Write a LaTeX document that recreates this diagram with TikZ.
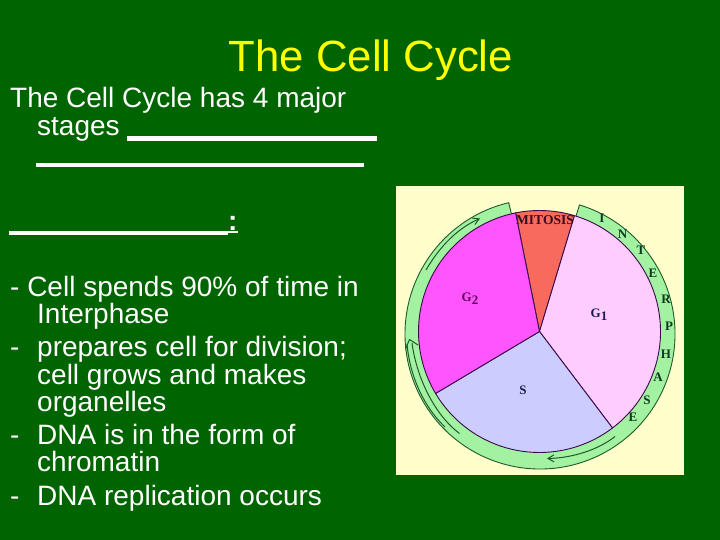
\documentclass[tikz,border=0pt]{standalone}
\usepackage{fontspec}
\setmainfont{Liberation Sans}
\newfontfamily\serifdiag{Liberation Serif}
\usetikzlibrary{arrows.meta}
\definecolor{slidebg}{HTML}{006400}
\definecolor{panelbg}{HTML}{FFFFCC}
\definecolor{ringgreen}{HTML}{A2F2A2}
\definecolor{ringline}{HTML}{1F5A2A}
\definecolor{wedgeline}{HTML}{3A0A4A}
\definecolor{mitosisc}{HTML}{F86A5E}
\definecolor{gonec}{HTML}{FFCCFF}
\definecolor{sc}{HTML}{CCCCFF}
\definecolor{gtwoc}{HTML}{FF55FF}
\definecolor{labelnavy}{HTML}{1A1A50}
\definecolor{labelgreen}{HTML}{0F3A20}
\tikzset{
  bodyline/.style={anchor=base west,text=white,inner sep=0pt,font=\fontsize{28}{28}\selectfont},
  blank/.style={white,line width=4.5pt},
  wedge/.style={draw=wedgeline,line width=0.9pt},
  ringedge/.style={draw=ringline,line width=0.9pt},
  flowline/.style={draw=ringline,line width=1pt},
  flow/.style={flowline,-{Straight Barb[length=6pt,width=7pt]}},
  letter/.style={font=\serifdiag\bfseries\fontsize{13}{13}\selectfont,text=labelgreen,inner sep=0pt},
  phase/.style={font=\serifdiag\bfseries\fontsize{13}{13}\selectfont,inner sep=0pt},
}
\newcommand{\dashitem}{\makebox[27pt][l]{-}}
\begin{document}
\begin{tikzpicture}[x=1pt,y=-1pt]
\useasboundingbox (0,0) rectangle (720,540);
\fill[slidebg] (0,0) rectangle (720,540);
% title and text
\node[anchor=base,text={rgb,255:red,255;green,255;blue,0},inner sep=0pt,font=\fontsize{43.7}{44}\selectfont] (title) at (371,71.5) {The Cell Cycle};
\node[bodyline] (l1) at (10,108) {The Cell Cycle has 4 major};
\node[bodyline] (l2) at (37,135.5) {stages};
\draw[blank] (127,138.7) -- (377,138.7);
\draw[blank] (36,165) -- (364,165);
\draw[blank] (9,233) -- (228,233);
\draw[white,line width=1pt] (228,232) -- (238,232);
\node[bodyline,font=\bfseries\fontsize{28}{28}\selectfont] (colon) at (228,230) {:};
\node[bodyline] (l3) at (10,296) {- Cell spends 90\% of time in};
\node[bodyline] (l4) at (37,323) {Interphase};
\node[bodyline] (l5) at (10,356) {\dashitem prepares cell for division;};
\node[bodyline] (l6) at (37,384) {cell grows and makes};
\node[bodyline] (l7) at (37,411) {organelles};
\node[bodyline] (l8) at (10,444) {\dashitem DNA is in the form of};
\node[bodyline] (l9) at (37,471) {chromatin};
\node[bodyline] (l10) at (10,505) {\dashitem DNA replication occurs};
% panel
\fill[panelbg] (396,186) rectangle (684,475);
% outer ring: sectors from the ring centre, the pie covers the inner part
\def\cxo{540}\def\cyo{334}\def\ro{135}\def\ri{115}
\fill[ringgreen] (\cxo,\cyo) -- ({\cxo+\ro*cos(103.4)},{\cyo-\ro*sin(103.4)}) arc[start angle=-103.4,end angle=-187,radius=\ro] -- cycle;
\fill[ringgreen] (\cxo,\cyo) -- ({\cxo+\ro*cos(73)},{\cyo-\ro*sin(73)}) arc[start angle=-73,end angle=173.2,radius=\ro] -- cycle;
\draw[ringedge] ({\cxo+\ri*cos(103.4)},{\cyo-\ri*sin(103.4)}) -- ({\cxo+\ro*cos(103.4)},{\cyo-\ro*sin(103.4)}) arc[start angle=-103.4,end angle=-187,radius=\ro];
\draw[ringedge] ({\cxo+\ri*cos(73)},{\cyo-\ri*sin(73)}) -- ({\cxo+\ro*cos(73)},{\cyo-\ro*sin(73)}) arc[start angle=-73,end angle=173.2,radius=\ro];
% pie
\def\cx{539.5}\def\cy{331.5}\def\pr{121}
\draw[wedge,fill=mitosisc] (\cx,\cy) -- ({\cx+\pr*cos(101.4)},{\cy-\pr*sin(101.4)}) arc[start angle=-101.4,end angle=-73.2,radius=\pr] -- cycle;
\draw[wedge,fill=gonec] (\cx,\cy) -- ({\cx+\pr*cos(73.2)},{\cy-\pr*sin(73.2)}) arc[start angle=-73.2,end angle=52.9,radius=\pr] -- cycle;
\draw[wedge,fill=sc] (\cx,\cy) -- ({\cx+\pr*cos(-52.9)},{\cy-\pr*sin(-52.9)}) arc[start angle=52.9,end angle=149.2,radius=\pr] -- cycle;
\draw[wedge,fill=gtwoc] (\cx,\cy) -- ({\cx+\pr*cos(210.8)},{\cy-\pr*sin(210.8)}) arc[start angle=149.2,end angle=258.6,radius=\pr] -- cycle;
% arrows in ring
\coordinate (a1s) at (426,270);
\coordinate (a1e) at (480,218.5);
\draw[flow] (a1s) .. controls (440,246) and (458,228) .. (a1e);
% the double-shafted arrow at lower left
\coordinate (a2tip) at (409.5,339.5);
\coordinate (a2l) at (405.5,349);
\coordinate (a2r) at (418,345);
\coordinate (a2sa) at (459.5,433.5);
\coordinate (a2ea) at (412,343);
\coordinate (a2sb) at (445,427);
\coordinate (a2eb) at (407,344);
\draw[flowline] (a2sa) .. controls (436,416) and (417,380) .. (a2ea);
\draw[flowline] (a2sb) .. controls (425,408) and (410,378) .. (a2eb);
\draw[flowline,line join=round] (a2l) -- (a2tip) -- (a2r);
\coordinate (a3s) at (615,436.5);
\coordinate (a3e) at (547,458.5);
\draw[flow] (a3s) .. controls (598,450) and (572,458) .. (a3e);
% labels
\node[phase,text={rgb,255:red,60;green,10;blue,30},font=\serifdiag\bfseries\fontsize{13.5}{13.5}\selectfont] (mit) at (545,220) {MITOSIS};
\node[phase,text={rgb,255:red,90;green,0;blue,90}] (g2) at (470,299) {G\raisebox{-3pt}{2}};
\node[phase,text=labelnavy] (g1) at (599,315) {G\raisebox{-3pt}{1}};
\node[phase,text=labelnavy] (s) at (523,390) {S};
\node[letter] (i1) at (602,218) {I};
\node[letter] (i2) at (622.5,234) {N};
\node[letter] (i3) at (641,250.5) {T};
\node[letter] (i4) at (653,273) {E};
\node[letter] (i5) at (666,299) {R};
\node[letter] (i6) at (669,326) {P};
\node[letter] (i7) at (666,354) {H};
\node[letter] (i8) at (658,377) {A};
\node[letter] (i9) at (647,400) {S};
\node[letter] (i10) at (633,417) {E};
\end{tikzpicture}
\end{document}
